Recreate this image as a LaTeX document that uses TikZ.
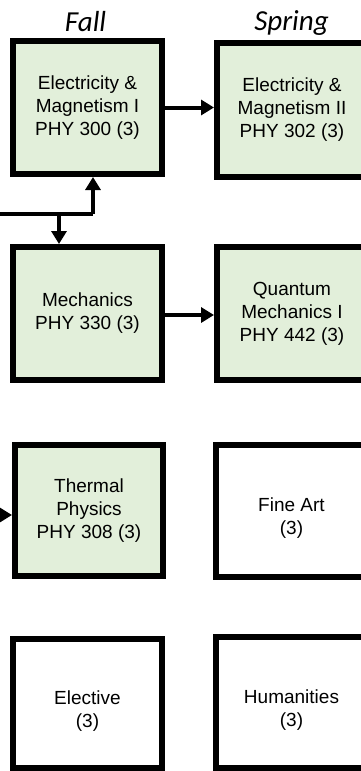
\documentclass[tikz,border=0pt]{standalone}
\usepackage{fontspec}
\setmainfont{Liberation Sans}
\newfontfamily\headfont{Carlito}
\usetikzlibrary{arrows.meta}
\definecolor{boxgreen}{RGB}{226,239,218}
\newcommand{\dropline}{\mbox{}\\[5pt]}
\tikzset{
  course/.style={draw=black, line width=6pt, minimum width=149pt, minimum height=133pt,
    inner sep=0pt, align=center, font=\fontsize{19}{23}\selectfont},
  req/.style={course, fill=boxgreen},
  opt/.style={course, fill=white},
  conn/.style={line width=4pt, -{Triangle[length=13pt,width=15pt]}},
  head/.style={font=\headfont\itshape\fontsize{29}{34}\selectfont, anchor=base, inner sep=0pt}
}
\begin{document}
\begin{tikzpicture}[x=1pt,y=-1pt]
\useasboundingbox (0,0) rectangle (361,771);
\begin{scope}
\clip (0,0) rectangle (361,771);
\node[head] (fall) at (85.5,31) {Fall};
\node[head] (spring) at (291.5,30) {Spring};

\node[req] (em1) at (87.5,107.5) {Electricity \&\\Magnetism I\\PHY 300 (3)};
\node[req, minimum width=150pt, minimum height=134pt] (em2) at (292,110) {Electricity \&\\Magnetism II\\PHY 302 (3)};
\node[req] (mech) at (87.5,313.5) {Mechanics\\PHY 330 (3)};
\node[req, minimum width=150pt] (qm) at (292,313.5) {Quantum\\Mechanics I\\PHY 442 (3)};
\node[req, minimum width=148pt, minimum height=131pt] (therm) at (89,510.5) {Thermal\\Physics\\PHY 308 (3)};
\node[opt, minimum width=151pt, minimum height=132pt] (fine) at (291.5,511) {\dropline Fine Art\\(3)};
\node[opt, minimum height=129pt] (elec) at (87.5,703.5) {\dropline Elective\\(3)};
\node[opt, minimum width=151pt, minimum height=131pt] (hum) at (291.5,702.5) {\dropline Humanities\\(3)};

\coordinate (in1) at (0,213.7);
\coordinate (j1) at (93,213.7);
\coordinate (j2) at (59,213.7);
\coordinate (in2) at (0,515);

\draw[line width=4pt] (in1) -- (j1);
\draw[conn] (j1) -- (j1 |- em1.south);
\draw[conn] (j2) -- (j2 |- mech.north);
\draw[conn] (em1.east) -- (em1.east -| em2.west);
\draw[conn] ([yshift=-1.5pt]mech.east) -- ([yshift=-1.5pt]mech.east -| qm.west);
\draw[conn] (in2) -- (in2 -| therm.west);
\end{scope}
\end{tikzpicture}
\end{document}
